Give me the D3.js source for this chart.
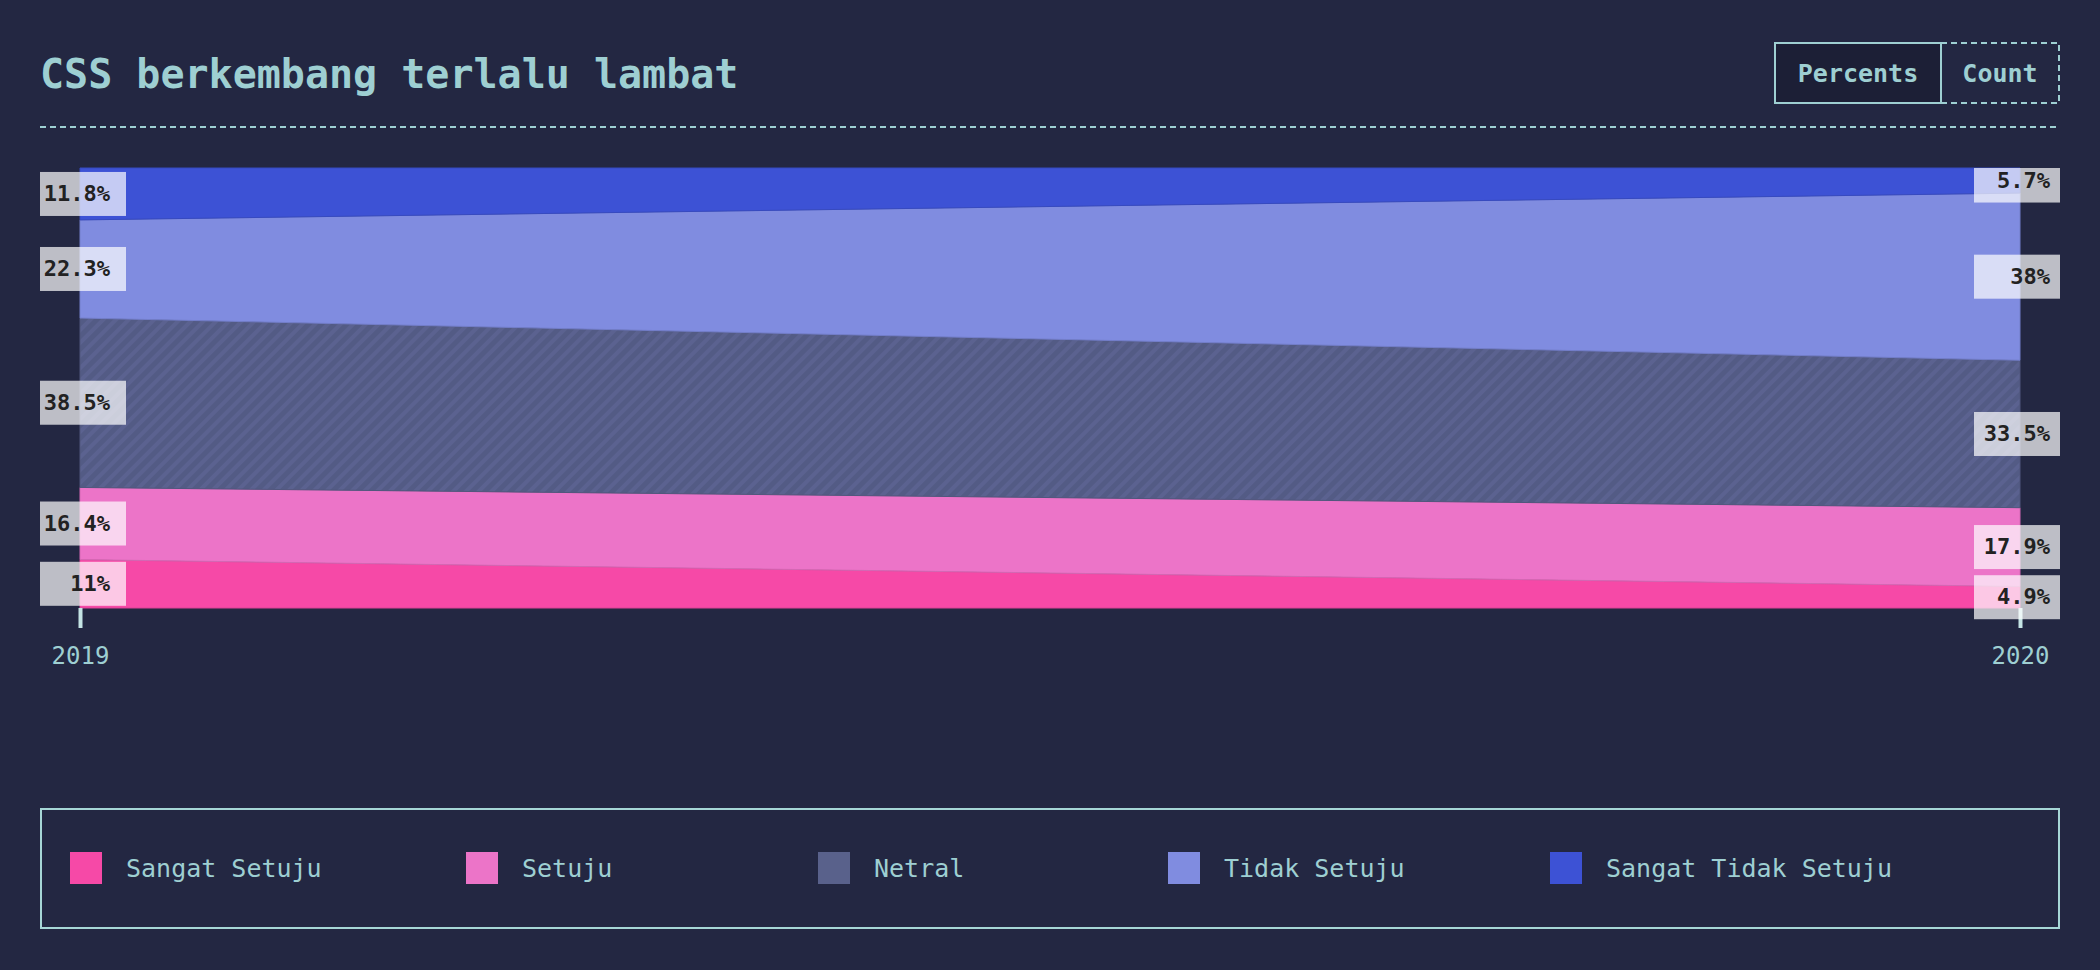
<!DOCTYPE html>
<html>
<head>
<meta charset="utf-8">
<script src="https://cdn.jsdelivr.net/npm/d3@7"></script>
<style>
  body { margin: 0; background: #232742; }
  text { font-family: "DejaVu Sans Mono", "Liberation Mono", monospace; }
</style>
</head>
<body>
<div id="chart"></div>
<script>
// data (percent of respondents)
var years = ["2019", "2020"];
var categories = ["Sangat Setuju", "Setuju", "Netral", "Tidak Setuju", "Sangat Tidak Setuju"];
var sangatSetuju = [11, 4.9];
var setuju = [16.4, 17.9];
var netral = [38.5, 33.5];
var tidakSetuju = [22.3, 38];
var sangatTidakSetuju = [11.8, 5.7];
var colors = ["#f649a7", "#ec74c8", "#59618b", "#808ce0", "#3d52d5"];

var series = [sangatSetuju, setuju, netral, tidakSetuju, sangatTidakSetuju];

// build rows for d3.stack
var rows = years.map(function(y, i) {
  var r = {year: y};
  categories.forEach(function(c, k) { r[c] = series[k][i]; });
  return r;
});

var W = 2100, H = 970;
var margin = {top: 168, right: 80, bottom: 362, left: 80};
var teal = "#9ecfd2";

var svg = d3.select("#chart")
  .append("svg")
    .attr("width", W)
    .attr("height", H);

// title + dashed rule
svg.append("text")
  .attr("x", 40).attr("y", 88)
  .attr("font-size", 40).attr("font-weight", "bold")
  .attr("fill", teal)
  .text("CSS berkembang terlalu lambat");

svg.append("line")
  .attr("x1", 40).attr("x2", 2060).attr("y1", 127).attr("y2", 127)
  .attr("stroke", teal).attr("stroke-width", 2)
  .attr("stroke-dasharray", "6,4");

// percents / count toggle
svg.append("rect")
  .attr("x", 1775).attr("y", 43).attr("width", 166).attr("height", 60)
  .attr("fill", "#1c1f36").attr("stroke", teal).attr("stroke-width", 2);
svg.append("path")
  .attr("d", "M1941,43H2059V103H1941")
  .attr("fill", "none").attr("stroke", teal).attr("stroke-width", 2)
  .attr("stroke-dasharray", "6,4");
svg.append("text")
  .attr("x", 1858).attr("y", 82).attr("text-anchor", "middle")
  .attr("font-size", 25).attr("font-weight", "bold").attr("fill", teal)
  .text("Percents");
svg.append("text")
  .attr("x", 2000).attr("y", 82).attr("text-anchor", "middle")
  .attr("font-size", 25).attr("font-weight", "bold").attr("fill", teal)
  .text("Count");

// scales
var x = d3.scalePoint()
  .domain(years)
  .range([margin.left, W - margin.right]);

var y = d3.scaleLinear()
  .domain([0, 100])
  .range([H - margin.bottom, margin.top]);

var stacked = d3.stack().keys(categories)(rows);

// hatch for the neutral band
var defs = svg.append("defs");
var pat = defs.append("pattern")
  .attr("id", "hatch")
  .attr("patternUnits", "userSpaceOnUse")
  .attr("width", 9).attr("height", 9)
  .attr("patternTransform", "rotate(45)");
pat.append("rect").attr("width", 9).attr("height", 9).attr("fill", "#535b85");
pat.append("rect").attr("width", 4).attr("height", 9).attr("fill", "#5b6290");

defs.append("clipPath").attr("id", "clipTop")
  .append("rect").attr("x", 0).attr("y", margin.top).attr("width", W).attr("height", H);

var area = d3.area()
  .x(function(d) { return x(d.data.year); })
  .y0(function(d) { return y(d[0]); })
  .y1(function(d) { return y(d[1]); });

svg.append("g")
  .selectAll("path")
  .data(stacked)
  .enter().append("path")
    .attr("d", area)
    .attr("fill", function(d, i) { return d.key === "Netral" ? "url(#hatch)" : colors[i]; })
    .attr("stroke", function(d, i) { return d3.color(colors[i]).darker(0.3); })
    .attr("stroke-width", 1);

// x axis
var axis = svg.append("g")
  .attr("transform", "translate(0," + (H - margin.bottom) + ")")
  .call(d3.axisBottom(x).tickSize(20).tickPadding(19));
axis.select(".domain").remove();
axis.selectAll(".tick line").attr("stroke", "#c4e4e4").attr("stroke-width", 4);
axis.selectAll(".tick text")
  .attr("fill", teal)
  .attr("font-size", 24)
  .attr("font-family", "DejaVu Sans Mono, monospace");

// value labels at both ends
var labels = svg.append("g").attr("clip-path", "url(#clipTop)");
stacked.forEach(function(s) {
  s.forEach(function(d, i) {
    var cx = x(d.data.year);
    var cy = y((d[0] + d[1]) / 2);
    var bx = i === 0 ? cx - 40 : cx - 46;
    labels.append("rect")
      .attr("x", bx).attr("y", cy - 22)
      .attr("width", 86).attr("height", 44)
      .attr("fill", "rgba(255,255,255,0.7)");
    labels.append("text")
      .attr("x", cx + 30).attr("y", cy)
      .attr("dy", "0.33em")
      .attr("text-anchor", "end")
      .attr("font-size", 22).attr("font-weight", "bold")
      .attr("fill", "#222")
      .text(d.data[s.key] + "%");
  });
});

// legend
var legendX = [70, 466, 818, 1168, 1550];
svg.append("rect")
  .attr("x", 41).attr("y", 809).attr("width", 2018).attr("height", 119)
  .attr("fill", "none").attr("stroke", "#a6d6d6").attr("stroke-width", 2);

var items = svg.append("g")
  .selectAll("g")
  .data(categories)
  .enter().append("g")
    .attr("transform", function(d, i) { return "translate(" + legendX[i] + ",852)"; });
items.append("rect")
  .attr("width", 32).attr("height", 32)
  .attr("fill", function(d, i) { return colors[i]; });
items.append("text")
  .attr("x", 56).attr("y", 16).attr("dy", "0.35em")
  .attr("font-size", 25).attr("fill", teal)
  .text(function(d) { return d; });
</script>
</body>
</html>
